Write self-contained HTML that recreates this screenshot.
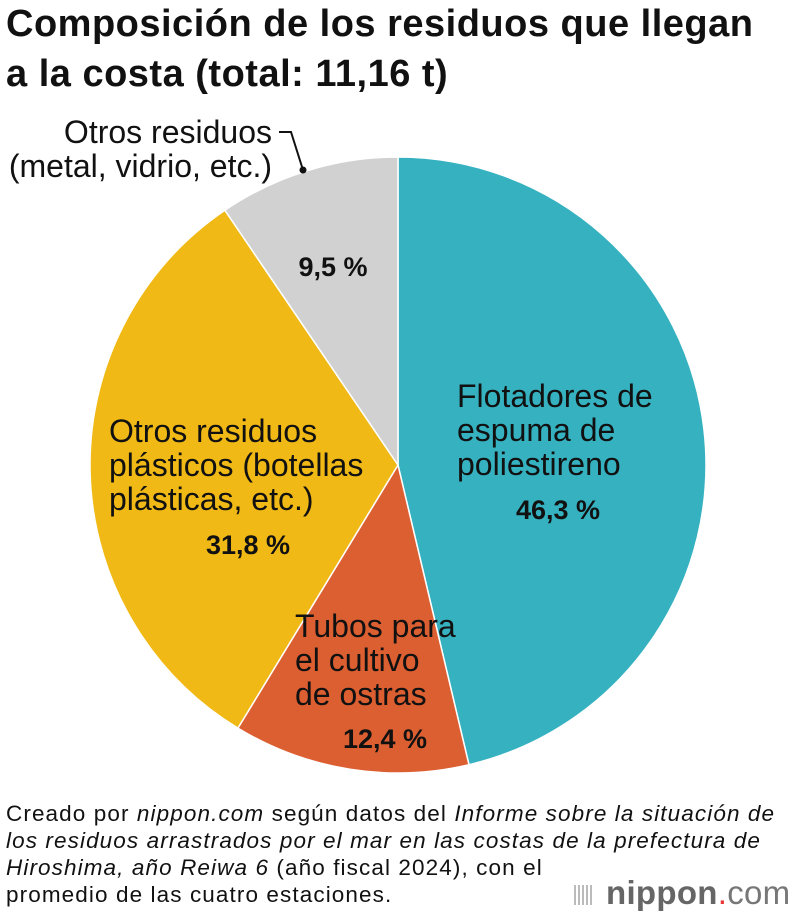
<!DOCTYPE html>
<html><head><meta charset="utf-8"><style>
body{margin:0;background:#fff;width:800px;height:922px;overflow:hidden;font-family:"Liberation Sans",sans-serif}
h1{position:absolute;left:6px;top:-1px;margin:0;font-size:38px;line-height:50px;font-weight:bold;color:#111;letter-spacing:0.5px;white-space:nowrap}
.note{position:absolute;left:6px;top:800px;font-size:22.5px;line-height:27px;color:#111;letter-spacing:1.1px;white-space:nowrap}
svg{position:absolute;left:0;top:0}
</style></head><body>
<h1>Composición de los residuos que llegan<br>a la costa (total: 11,16 t)</h1>
<svg id="chart" width="800" height="922"></svg>
<div class="note">Creado por <i>nippon.com</i> según datos del <i>Informe sobre la situación de<br>los residuos arrastrados por el mar en las costas de la prefectura de<br>Hiroshima, año Reiwa 6</i> (año fiscal 2024), con el<br>promedio de las cuatro estaciones.</div>
<div style="position:absolute;left:574px;top:873px;font-size:33px;color:#666;letter-spacing:0.3px;line-height:40px;white-space:nowrap">
<span style="display:inline-block;width:20px;height:20px;margin-right:12px;background:repeating-linear-gradient(90deg,#bbb 0 2px,transparent 2px 4px);vertical-align:middle"></span><b style="color:#666">nippon</b><span style="color:#e33">.</span><span style="color:#777">com</span></div>
<script>
const categories=["Flotadores de espuma de poliestireno","Tubos para el cultivo de ostras","Otros residuos plásticos","Otros residuos"];
const values=[46.3,12.4,31.8,9.5];
const valueLabels=["46,3 %","12,4 %","31,8 %","9,5 %"];
const colors=["#35b1c0","#dc5f32","#f0b915","#d1d1d1"];
const svg=document.getElementById('chart');
const NS="http://www.w3.org/2000/svg";
const cx=398,cy=465,r=308;
const total=values.reduce((a,b)=>a+b,0);
function pt(a,rr){return [cx+rr*Math.sin(a),cy-rr*Math.cos(a)];}
let a0=0;
values.forEach((v,i)=>{
  const a1=a0+v/total*2*Math.PI;
  const p0=pt(a0,r),p1=pt(a1,r);
  const path=document.createElementNS(NS,'path');
  path.setAttribute('d',`M${cx},${cy}L${p0[0]},${p0[1]}A${r},${r} 0 ${a1-a0>Math.PI?1:0} 1 ${p1[0]},${p1[1]}Z`);
  path.setAttribute('fill',colors[i]);path.setAttribute('stroke','#fff');path.setAttribute('stroke-width','1.5');
  
  
  svg.appendChild(path);
  a0=a1;
});
const labels=[
 {lines:["Flotadores de","espuma de","poliestireno"],x:457,y:407,val:valueLabels[0],vx:558,vy:519},
 {lines:["Tubos para","el cultivo","de ostras"],x:295,y:637,val:valueLabels[1],vx:385,vy:748},
 {lines:["Otros residuos","plásticos (botellas","plásticas, etc.)"],x:109,y:442,val:valueLabels[2],vx:248,vy:554},
 {lines:[],x:0,y:0,val:valueLabels[3],vx:333,vy:276}
];
labels.forEach((l,i)=>{
  l.lines.forEach((s,j)=>{
    const t=document.createElementNS(NS,'text');
    t.setAttribute('x',l.x);t.setAttribute('y',l.y+j*34);
    t.setAttribute('font-size','32');t.setAttribute('fill','#111');
    t.setAttribute('font-family','Liberation Sans, sans-serif');
    t.textContent=s;
    
    
    svg.appendChild(t);
  });
  const t=document.createElementNS(NS,'text');
  t.setAttribute('x',l.vx);t.setAttribute('y',l.vy);t.setAttribute('text-anchor','middle');
  t.setAttribute('font-size','27');t.setAttribute('font-weight','bold');t.setAttribute('fill','#111');
  t.setAttribute('font-family','Liberation Sans, sans-serif');
  t.textContent=l.val;
  
  
  svg.appendChild(t);
});
["Otros residuos","(metal, vidrio, etc.)"].forEach((s,j)=>{
  const t=document.createElementNS(NS,'text');
  t.setAttribute('x',272);t.setAttribute('y',143+j*34);t.setAttribute('text-anchor','end');
  t.setAttribute('font-size','32');t.setAttribute('fill','#111');
  t.setAttribute('font-family','Liberation Sans, sans-serif');
  t.textContent=s;
  
  
  svg.appendChild(t);
});
const ld=document.createElementNS(NS,'path');
ld.setAttribute('d','M279,132H291L303,170');ld.setAttribute('stroke','#111');ld.setAttribute('fill','none');ld.setAttribute('stroke-width','2');


svg.appendChild(ld);
const dot=document.createElementNS(NS,'circle');
dot.setAttribute('cx',303);dot.setAttribute('cy',170);dot.setAttribute('r',3.5);dot.setAttribute('fill','#111');


svg.appendChild(dot);
</script>
</body></html>
